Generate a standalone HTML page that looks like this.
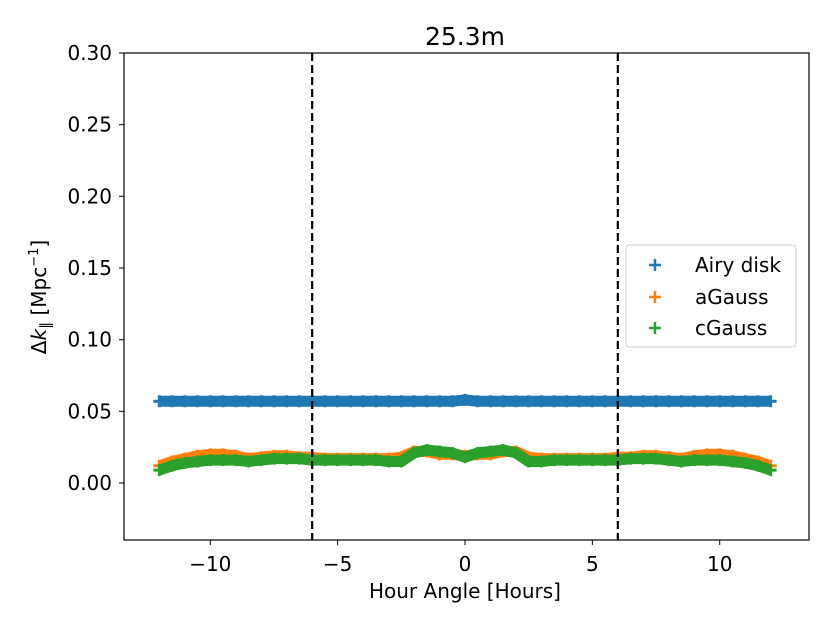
<!DOCTYPE html>
<html><head><meta charset="utf-8"><style>
body{margin:0;background:#fff;}
svg text{font-family:"DejaVu Sans","Liberation Sans",sans-serif;fill:#000;}
</style></head><body>
<svg id="chart" width="830" height="623" xmlns="http://www.w3.org/2000/svg">
<rect width="830" height="623" fill="#fff"/>
<g id="plot"></g>
<g id="axes"></g>
<text x="465" y="45" font-size="25" text-anchor="middle">25.3m</text>
<text x="465" y="598" font-size="20" text-anchor="middle">Hour Angle [Hours]</text>
<text transform="translate(46,297) rotate(-90)" font-size="20" text-anchor="middle">Δ<tspan font-style="italic">k</tspan><tspan font-size="14" dy="4">∥</tspan><tspan dy="-4"> [Mpc</tspan><tspan font-size="13" dy="-8">−1</tspan><tspan dy="8">]</tspan></text>
<g>
<rect x="626" y="245" width="170" height="102" rx="3" fill="#fff" fill-opacity="0.8" stroke="#ccc"/>
<g><path d="M649 265h12M655 259v12" stroke="#1f77b4" stroke-width="2.5"/><text x="695" y="272" font-size="20">Airy disk</text></g>
<g><path d="M649 297h12M655 291v12" stroke="#ff7f0e" stroke-width="2.5"/><text x="695" y="304" font-size="20">aGauss</text></g>
<g><path d="M649 328h12M655 322v12" stroke="#2ca02c" stroke-width="2.5"/><text x="695" y="335" font-size="20">cGauss</text></g>
</g>
</svg>
<script>
const hours=[-12,-11.5,-11,-10.5,-10,-9.5,-9,-8.5,-8,-7.5,-7,-6.5,-6,-5.5,-5,-4.5,-4,-3.5,-3,-2.5,-2,-1.5,-1,-0.5,0,0.5,1,1.5,2,2.5,3,3.5,4,4.5,5,5.5,6,6.5,7,7.5,8,8.5,9,9.5,10,10.5,11,11.5,12];
const airy=[0.057,0.057,0.057,0.057,0.057,0.057,0.057,0.057,0.057,0.057,0.057,0.057,0.057,0.057,0.057,0.057,0.057,0.057,0.057,0.057,0.057,0.057,0.057,0.057,0.058,0.057,0.057,0.057,0.057,0.057,0.057,0.057,0.057,0.057,0.057,0.057,0.057,0.057,0.057,0.057,0.057,0.057,0.057,0.057,0.057,0.057,0.057,0.057,0.057];
const aGauss=[0.012,0.015,0.017,0.019,0.020,0.020,0.019,0.017,0.018,0.019,0.019,0.018,0.018,0.017,0.017,0.017,0.017,0.017,0.017,0.018,0.022,0.022,0.020,0.020,0.019,0.020,0.020,0.022,0.022,0.018,0.017,0.017,0.017,0.017,0.017,0.017,0.018,0.018,0.019,0.019,0.018,0.017,0.019,0.020,0.020,0.019,0.017,0.015,0.012];
const cGauss=[0.009,0.012,0.014,0.015,0.016,0.016,0.016,0.015,0.016,0.017,0.017,0.017,0.016,0.016,0.016,0.016,0.016,0.016,0.015,0.015,0.021,0.023,0.022,0.021,0.018,0.021,0.022,0.023,0.021,0.015,0.015,0.016,0.016,0.016,0.016,0.016,0.016,0.017,0.017,0.017,0.016,0.015,0.016,0.016,0.016,0.015,0.014,0.012,0.009];
const xTicks=[-10,-5,0,5,10];
const xTickLabels=["−10","−5","0","5","10"];
const yTicks=[0,0.05,0.1,0.15,0.2,0.25,0.3];
const yTickLabels=["0.00","0.05","0.10","0.15","0.20","0.25","0.30"];
const vLines=[-6,6];

const L=124,R=809,T=53,B=540;
const X=v=>465+v*25.47;
const Y=v=>483-v*(430/0.3);
const NS="http://www.w3.org/2000/svg";
const plot=document.getElementById('plot'),axes=document.getElementById('axes');
function mk(tag,attrs,parent){const e=document.createElementNS(NS,tag);for(const k in attrs)e.setAttribute(k,attrs[k]);parent.appendChild(e);return e;}

function series(vals,color,name){
  const g=mk('g',{},plot);
  
  
  let d='';
  vals.forEach((v,i)=>{d+=(i?'L':'M')+X(hours[i]).toFixed(1)+' '+Y(v).toFixed(1);});
  const p=mk('path',{d:d,fill:'none',stroke:color,'stroke-width':11,'stroke-linejoin':'round'},g);
  
  
  vals.forEach((v,i)=>{
    const x=X(hours[i]),y=Y(v);
    const m=mk('path',{d:`M${x-6} ${y}h12M${x} ${y-6}v12`,stroke:color,'stroke-width':3},g);
    
    
  });
}
series(airy,'#1f77b4','airy-disk-series');
series(aGauss,'#ff7f0e','agauss-series');
series(cGauss,'#2ca02c','cgauss-series');

vLines.forEach(v=>{
  const l=mk('line',{x1:X(v),x2:X(v),y1:T,y2:B,stroke:'#000','stroke-width':2.2,'stroke-dasharray':'8,4'},plot);
  
  
});

const frame=mk('rect',{x:L,y:T,width:R-L,height:B-T,fill:'none',stroke:'#000','stroke-width':1.2},axes);


xTicks.forEach((v,i)=>{
  const t=mk('line',{x1:X(v),x2:X(v),y1:B,y2:B+5,stroke:'#000','stroke-width':1},axes);
  
  
  const tx=mk('text',{x:X(v),y:B+31,'font-size':20,'text-anchor':'middle'},axes);
  tx.textContent=xTickLabels[i];
  
  
});
yTicks.forEach((v,i)=>{
  const t=mk('line',{x1:L-5,x2:L,y1:Y(v),y2:Y(v),stroke:'#000','stroke-width':1},axes);
  
  
  const tx=mk('text',{x:L-12,y:Y(v)+7,'font-size':20,'text-anchor':'end'},axes);
  tx.textContent=yTickLabels[i];
  
  
});
</script>
</body></html>
